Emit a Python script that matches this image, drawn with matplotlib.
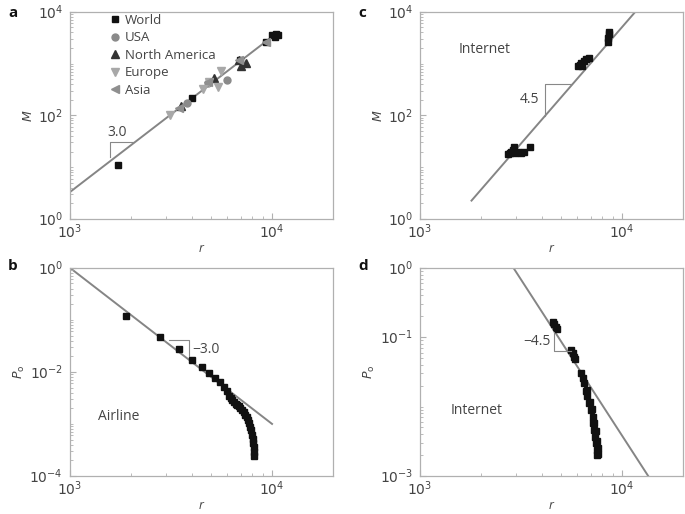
import numpy as np
import matplotlib
matplotlib.use("Agg")
import matplotlib.pyplot as plt
from matplotlib.ticker import LogLocator, FixedLocator, FixedFormatter, NullFormatter

## panel a: mass M versus radius r, several regions
world_r = [1730, 4020, 6930, 9310, 10000, 10300, 10700, 10450]
world_m = [11.1, 216, 1190, 2570, 3600, 3300, 3500, 3650]
usa_r = [3800, 5980, 4820]
usa_m = [173, 490, 430]
na_r = [3550, 5180, 7060, 7470, 6900]
na_m = [154, 525, 910, 1050, 1150]
eu_r = [3140, 4540, 4850, 5420, 5580]
eu_m = [100, 322, 433, 354, 710]
asia_r = [3480, 4820, 6870, 9300]
asia_m = [138, 445, 1170, 2600]

## panel b: airline, P_o versus r
air_r = [1885, 2800, 3480, 4040, 4490, 4880, 5230, 5510, 5790, 6010, 6120,
         6250, 6360, 6500, 6620, 6730, 6850, 6980, 7120, 7250, 7390, 7500,
         7620, 7720, 7820, 7900, 7970, 8020, 8070, 8100, 8130, 8130]
air_p = [0.121, 0.0469, 0.0275, 0.0171, 0.0124, 0.0095, 0.00772, 0.00628,
         0.0051, 0.00434, 0.00337, 0.0031, 0.0029, 0.0026, 0.00245, 0.00234,
         0.0022, 0.002, 0.00187, 0.0017, 0.0015, 0.00135, 0.0012, 0.00105,
         0.00089, 0.00075, 0.00062, 0.00052, 0.00043, 0.00036, 0.00029, 0.00024]

## panel c: internet, M versus r
net_r = [2730, 2830, 2910, 2960, 3040, 3160, 3270, 3490, 2780, 2880,
         6060, 6260, 6450, 6630, 6870, 6330, 6180,
         8470, 8540, 8600, 8630]
net_m = [18.2, 20, 24.5, 19, 20, 19, 19.6, 24.3, 18.7, 21.6,
         898, 1010, 1130, 1205, 1265, 898, 960,
         2590, 3150, 3660, 4150]

## panel d: internet, P_o versus r
netp_r = [4530, 4590, 4710, 4760, 5580, 5690, 5800, 5860, 6270, 6390, 6510,
          6620, 6680, 6840, 7020, 7150, 7210, 7290, 7380, 7430, 7490, 7510,
          6700, 6950, 7100, 7300, 7450, 7550, 7600, 7620]
netp_p = [0.166, 0.154, 0.142, 0.13, 0.0653, 0.0597, 0.0522, 0.0478, 0.0306,
          0.0259, 0.0219, 0.0166, 0.014, 0.0112, 0.00897, 0.00718, 0.00575,
          0.0046, 0.00368, 0.00295, 0.00236, 0.002, 0.0175, 0.0118, 0.0092,
          0.0058, 0.0044, 0.0032, 0.0025, 0.0021]

LINE = "#858585"
SPINE = "#b0b0b0"
TXT = "#444444"

plt.rcParams["font.family"] = ["Open Sans", "DejaVu Sans"]

fig = plt.figure(figsize=(6.85, 5.14), dpi=100)
ax_a = fig.add_axes([0.102, 0.574, 0.384, 0.403])
ax_b = fig.add_axes([0.102, 0.074, 0.384, 0.405])
ax_c = fig.add_axes([0.613, 0.574, 0.384, 0.403])
ax_d = fig.add_axes([0.613, 0.074, 0.384, 0.405])


def style(ax, ylim, ymajor, ylabels, ylab):
    ax.set_xscale("log")
    ax.set_yscale("log")
    ax.set_xlim(1e3, 2e4)
    ax.set_ylim(*ylim)
    for s in ax.spines.values():
        s.set_color(SPINE)
        s.set_linewidth(0.9)
    ax.xaxis.set_major_locator(FixedLocator([1e3, 1e4]))
    ax.xaxis.set_major_formatter(FixedFormatter(["$10^3$", "$10^4$"]))
    ax.xaxis.set_minor_locator(LogLocator(base=10, subs=np.arange(2, 10)))
    ax.xaxis.set_minor_formatter(NullFormatter())
    ax.yaxis.set_major_locator(FixedLocator(ymajor))
    ax.yaxis.set_major_formatter(FixedFormatter(ylabels))
    ax.yaxis.set_minor_locator(LogLocator(base=10, subs=np.arange(1, 10)))
    ax.yaxis.set_minor_formatter(NullFormatter())
    ax.tick_params(which="both", direction="in", color=SPINE, labelcolor=TXT,
                   labelsize=10)
    ax.tick_params(which="major", length=4)
    ax.tick_params(which="minor", length=2)
    ax.tick_params(axis="x", pad=3)
    ax.tick_params(axis="y", pad=5)
    ax.set_xlabel("r", style="italic", color=TXT, fontsize=9, labelpad=0)
    ax.set_ylabel(ylab, color=TXT, fontsize=9, labelpad=2)


# a
style(ax_a, (1, 1e4), [1, 1e2, 1e4], ["$10^0$", "$10^2$", "$10^4$"], "$M$")
ra = np.array([1e3, 1.05e4])
ax_a.plot(ra, 3.3 * (ra / 1e3) ** 3.0, color=LINE, lw=1.4, zorder=1)
ax_a.plot(world_r, world_m, "s", color="#111111", ms=5, ls="none", label="World")
ax_a.plot(usa_r, usa_m, "o", color="#8a8a8a", ms=5, ls="none", label="USA")
ax_a.plot(na_r, na_m, "^", color="#333333", ms=5.5, ls="none", label="North America")
ax_a.plot(eu_r, eu_m, "v", color="#a8a8a8", ms=5.5, ls="none", label="Europe")
ax_a.plot(asia_r, asia_m, "<", color="#8f8f8f", ms=5.5, ls="none", label="Asia")
ax_a.plot([1573, 1573, 2050], [16, 31, 31], color="#888888", lw=0.8)
ax_a.text(1720, 46, "3.0", color=TXT, fontsize=10, ha="center", va="center")
leg = ax_a.legend(loc="upper left", bbox_to_anchor=(0.12, 1.03), frameon=False,
                  fontsize=9.5, handlelength=0.8, handletextpad=0.4,
                  labelspacing=0.35, borderaxespad=0.2)
for t in leg.get_texts():
    t.set_color(TXT)

# b
style(ax_b, (1e-4, 1), [1e-4, 1e-2, 1], ["$10^{-4}$", "$10^{-2}$", "$10^0$"],
      "$P_{\\rm o}$")
rb = np.array([1e3, 1e4])
ax_b.plot(rb, (rb / 1e3) ** -3.0, color=LINE, lw=1.4, zorder=1)
ax_b.plot(air_r, air_p, "s", color="#111111", ms=5, ls="none")
ax_b.plot([3100, 3870, 3870], [0.0404, 0.0404, 0.0199], color="#888888", lw=0.8)
ax_b.text(4010, 0.0267, "\u22123.0", color=TXT, fontsize=10, ha="left", va="center")
ax_b.text(1370, 1.39e-3, "Airline", color=TXT, fontsize=10, ha="left", va="center")

# c
style(ax_c, (1, 1e4), [1, 1e2, 1e4], ["$10^0$", "$10^2$", "$10^4$"], "$M$")
rc = np.array([1800, 1.3e4])
ax_c.plot(rc, 96 * (rc / 4140) ** 4.5, color=LINE, lw=1.4, zorder=1)
ax_c.plot(net_r, net_m, "s", color="#111111", ms=5, ls="none")
ax_c.plot([4140, 4140, 5600], [96, 408, 408], color="#888888", lw=0.8)
ax_c.text(3900, 203, "4.5", color=TXT, fontsize=10, ha="right", va="center")
ax_c.text(1560, 1860, "Internet", color=TXT, fontsize=10, ha="left", va="center")

# d
style(ax_d, (1e-3, 1), [1e-3, 1e-1, 1], ["$10^{-3}$", "$10^{-1}$", "$10^0$"],
      "$P_{\\rm o}$")
rd = np.array([2900, 1.4e4])
ax_d.plot(rd, (rd / 2900) ** -4.5, color=LINE, lw=1.4, zorder=1)
ax_d.plot(netp_r, netp_p, "s", color="#111111", ms=5, ls="none")
ax_d.plot([4580, 4580, 5580], [0.119, 0.063, 0.063], color="#888888", lw=0.8)
ax_d.text(4450, 0.088, "\u22124.5", color=TXT, fontsize=10, ha="right", va="center")
ax_d.text(1420, 0.0087, "Internet", color=TXT, fontsize=10, ha="left", va="center")

for lab, x, y in [("a", 0.012, 0.975), ("b", 0.012, 0.482),
                  ("c", 0.523, 0.975), ("d", 0.523, 0.482)]:
    fig.text(x, y, lab, fontsize=11, fontweight="bold", color="#111111",
             ha="left", va="center")

fig.savefig("out.png", dpi=100)
